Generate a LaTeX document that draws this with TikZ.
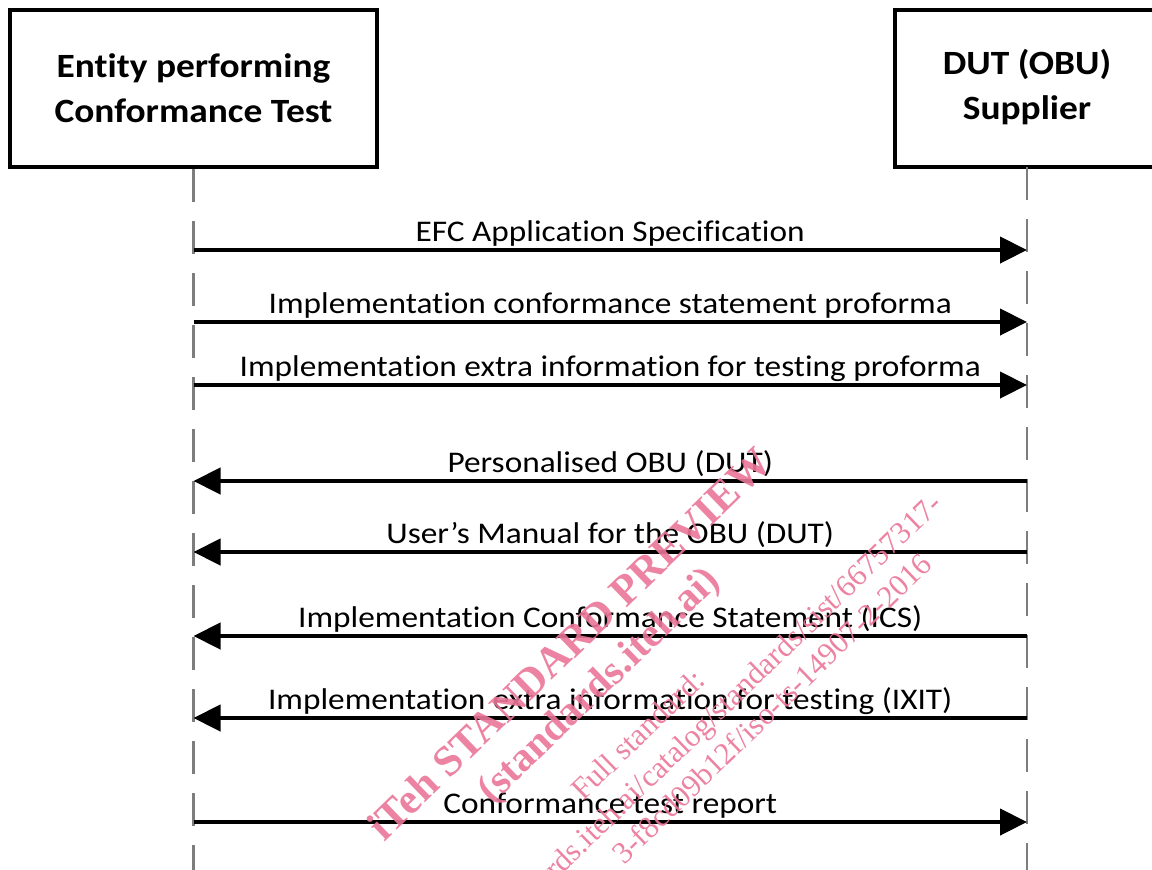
\documentclass[tikz,border=0pt]{standalone}
\usepackage{fontspec}
\setmainfont{Carlito}[Ligatures=NoCommon]
\newfontfamily\headfont{Carlito}[FakeStretch=1.1, Ligatures=NoCommon]
\newfontfamily\lblfont{Carlito}[FakeStretch=1.11, Ligatures=NoCommon]
\newfontfamily\wmfont{Liberation Serif}
\usetikzlibrary{arrows.meta}
\definecolor{lifegray}{RGB}{125,125,125}
\definecolor{wmpink}{RGB}{234,118,152}

\begin{document}
\begin{tikzpicture}[x=0.5pt,y=-0.5pt,
  actor/.style={draw=black, line width=2.3pt, inner sep=0pt},
  headtxt/.style={font=\headfont\fontsize{17}{22.5}\selectfont\bfseries, align=center},
  lifeline/.style={draw=lifegray, line width=1.3pt, dash pattern=on 16.5pt off 9.5pt},
  msg/.style={line width=2.2pt, -{Triangle[length=13.5pt,width=13pt]}},
  msglabel/.style={font=\lblfont\fontsize{15}{17}\selectfont, anchor=base, inner sep=0pt, yshift=4.5pt},
  wmbig/.style={text=wmpink, text opacity=0.9, font=\wmfont\fontsize{20.5}{22}\selectfont\bfseries, rotate=44, inner sep=0pt},
  wmsmall/.style={text=wmpink, text opacity=0.9, font=\wmfont\fontsize{15.5}{17}\selectfont, rotate=44, inner sep=0pt}
]
\useasboundingbox (0,0) rectangle (1152,869);
\clip (0,0) rectangle (1152,869);

% participants
\node[actor, headtxt, minimum width=183.5pt, minimum height=78.5pt] (ent) at (193.5,88.5)
  {Entity performing\\Conformance Test};
\node[actor, minimum width=142.5pt, minimum height=78.5pt] (dutbox) at (1037.5,88.5) {};
\node[headtxt] (dut) at (1027,87) {DUT (OBU)\\Supplier};

% lifelines
\coordinate (lbot) at (193.5,880);
\coordinate (rtop) at (1027,167);
\coordinate (rbot) at (1027,880);
\draw[lifeline] (ent.south) -- (lbot);
\draw[lifeline] (rtop) -- (rbot);

% message anchor points on the lifelines
\foreach \i/\y in {1/250,2/322,3/385,4/481,5/552,6/636,7/718,8/822}{
  \coordinate (L\i) at (ent.south |- 0,\y);
  \coordinate (R\i) at (rtop |- 0,\y);
}

% messages
\draw[msg] (L1) -- (R1) node[msglabel, pos=0.5] {EFC Application Specification};
\draw[msg] (L2) -- (R2) node[msglabel, pos=0.5] {Implementation conformance statement proforma};
\draw[msg] (L3) -- (R3) node[msglabel, pos=0.5] {Implementation extra information for testing proforma};
\draw[msg] (R4) -- (L4) node[msglabel, pos=0.5] {Personalised OBU (DUT)};
\draw[msg] (R5) -- (L5) node[msglabel, pos=0.5] {User’s Manual for the OBU (DUT)};
\draw[msg] (R6) -- (L6) node[msglabel, pos=0.5] {Implementation Conformance Statement (ICS)};
\draw[msg] (R7) -- (L7) node[msglabel, pos=0.5] {Implementation extra information for testing (IXIT)};
\draw[msg] (L8) -- (R8) node[msglabel, pos=0.5] {Conformance test report};

% preview stamp
\node[wmbig, font=\wmfont\fontsize{21.5}{23}\selectfont\bfseries, anchor=base west] (wm1) at (384,843) {iTeh STANDARD PREVIEW};
\node[wmbig, anchor=base west] (wm2) at (492,805) {(standards.iteh.ai)};
\node[wmsmall, anchor=base west] (wm3) at (583,802) {Full standard:};
\node[wmsmall, anchor=base east] (wm4) at (944,506) {https://standards.iteh.ai/catalog/standards/sist/66757317-};
\node[wmsmall, anchor=base east] (wm5) at (934,566) {3-f8cd09b12f/iso-ts-14907-2-2016};
\end{tikzpicture}
\end{document}
